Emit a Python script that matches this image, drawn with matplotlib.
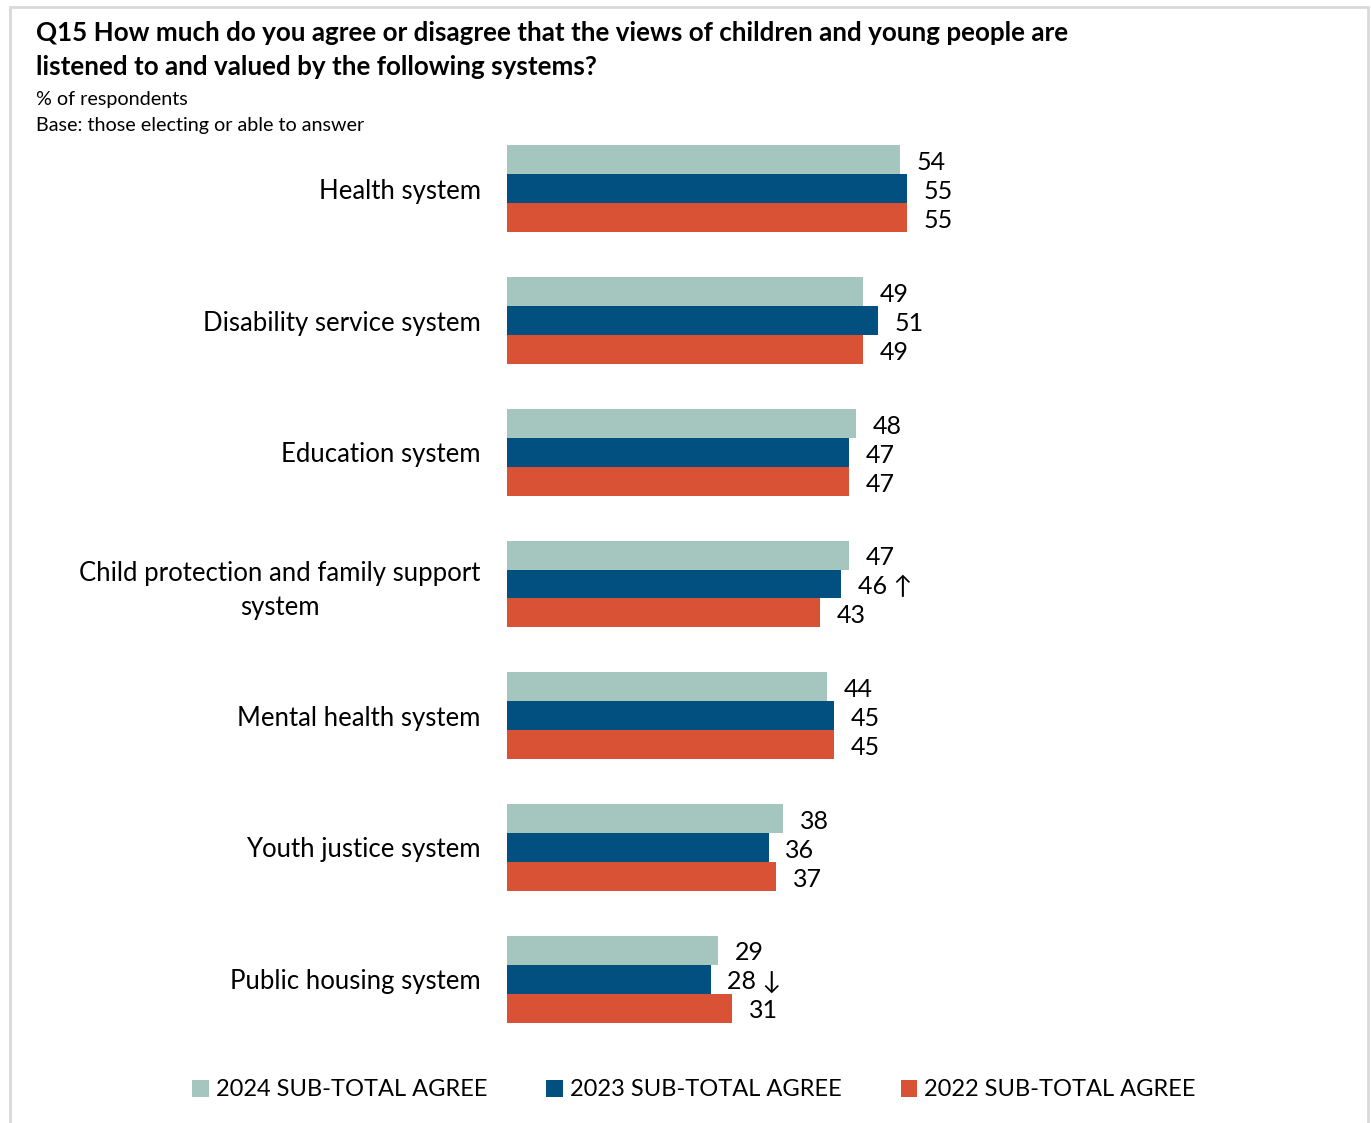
import matplotlib.pyplot as plt
from matplotlib.patches import Rectangle
import numpy as np

plt.rcParams['font.family'] = ['Lato', 'DejaVu Sans']

# données
systemes = ["Health system", "Disability service system", "Education system",
            "Child protection and family support\nsystem", "Mental health system",
            "Youth justice system", "Public housing system"]
v2024 = [54, 49, 48, 47, 44, 38, 29]
v2023 = [55, 51, 47, 46, 45, 36, 28]
v2022 = [55, 49, 47, 43, 45, 37, 31]
fleches_2023 = ["", "", "", "↑", "", "", "↓"]
series = ["2024 SUB-TOTAL AGREE", "2023 SUB-TOTAL AGREE", "2022 SUB-TOTAL AGREE"]
couleurs = ["#a5c6bf", "#015080", "#d95236"]

W, H = 1371, 1123
fig = plt.figure(figsize=(W / 100, H / 100), dpi=100)

# cadre gris clair
fig.add_artist(Rectangle((10 / W, -0.01), 1358 / W, 1 - 7 / H + 0.01,
                         transform=fig.transFigure, fill=False,
                         edgecolor="#d9d9d9", linewidth=2))

ax = fig.add_axes([507 / W, 1 - 1045 / H, 727 / W, 922 / H])
y = np.arange(len(systemes))
h = 0.22
for k, (vals, c) in enumerate(zip([v2024, v2023, v2022], couleurs)):
    pos = y + (k - 1) * h
    ax.barh(pos, vals, height=h, color=c, label=series[k])
    for i, v in enumerate(vals):
        txt = str(v)
        if k == 1 and fleches_2023[i]:
            txt += " " + fleches_2023[i]
        ax.annotate(txt, (v, pos[i]), xytext=(12, -2), textcoords="offset points",
                    va="center", ha="left", fontsize=18)

ax.set_xlim(0, 100)
ax.set_ylim(6.5, -0.5)
ax.set_yticks(y)
ax.set_yticklabels(systemes, fontsize=18.5, multialignment="center", linespacing=1.45)
ax.tick_params(axis="y", length=0, pad=19)
ax.set_xticks([])
for s in ax.spines.values():
    s.set_visible(False)

fig.text(36 / W, 1 - 33 / H, "Q15 How much do you agree or disagree that the views of children and young people are",
         fontsize=18.7, fontweight="bold", va="center")
fig.text(36 / W, 1 - 67 / H, "listened to and valued by the following systems?",
         fontsize=18.7, fontweight="bold", va="center")
fig.text(36 / W, 1 - 100 / H, "% of respondents", fontsize=14.2, va="center")
fig.text(36 / W, 1 - 126 / H, "Base: those electing or able to answer", fontsize=14.2, va="center")

fig.legend(loc="center", bbox_to_anchor=(694 / W, 1 - 1090 / H), ncol=3,
           frameon=False, fontsize=17, handlelength=0.7, handleheight=0.7,
           handletextpad=0.3, columnspacing=2.5)

fig.savefig("out.png", dpi=100)
